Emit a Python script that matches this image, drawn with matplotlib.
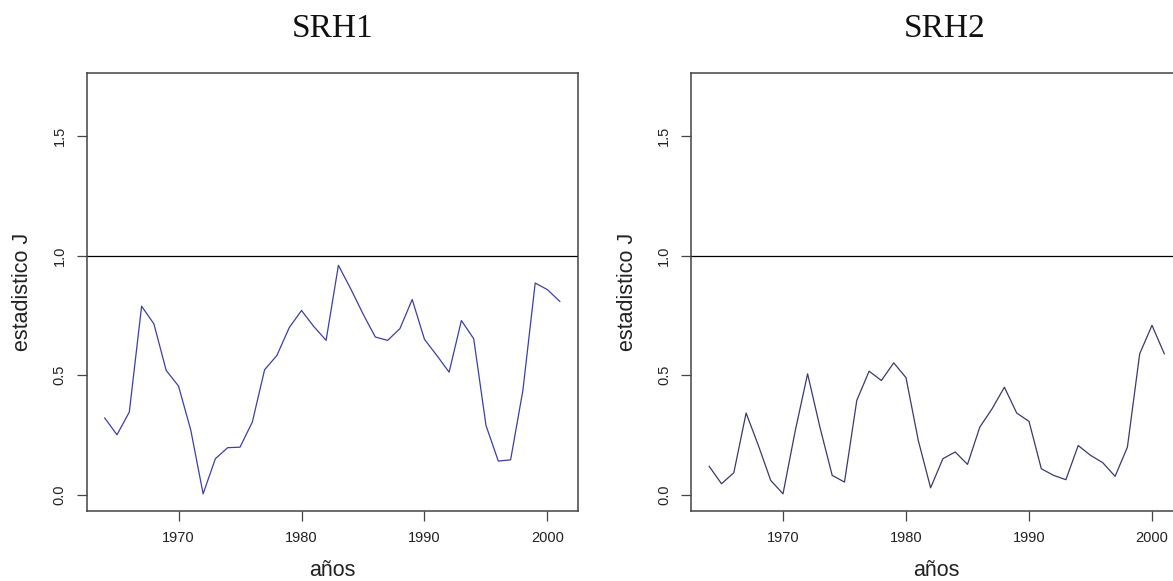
import matplotlib
matplotlib.use("Agg")
import matplotlib.pyplot as plt

years = list(range(1964, 2002))
srh1 = [0.321, 0.251, 0.346, 0.789, 0.715, 0.520, 0.455, 0.270, 0.004, 0.151,
        0.197, 0.199, 0.304, 0.523, 0.583, 0.699, 0.771, 0.704, 0.646, 0.960,
        0.862, 0.757, 0.660, 0.646, 0.695, 0.817, 0.650, 0.583, 0.513, 0.729,
        0.653, 0.290, 0.141, 0.146, 0.437, 0.886, 0.858, 0.809]
srh2 = [0.119, 0.046, 0.092, 0.342, 0.206, 0.060, 0.004, 0.269, 0.506, 0.283,
        0.081, 0.053, 0.395, 0.517, 0.478, 0.552, 0.490, 0.227, 0.029, 0.151,
        0.179, 0.127, 0.283, 0.360, 0.450, 0.342, 0.307, 0.109, 0.081, 0.063,
        0.206, 0.165, 0.134, 0.077, 0.199, 0.590, 0.709, 0.590]
titles = ["SRH1", "SRH2"]
xticks = [1970, 1980, 1990, 2000]
yticks = [0.0, 0.5, 1.0, 1.5]
yticklabels = ["0.0", "0.5", "1.0", "1.5"]
xlabel = "años"
ylabel = "estadistico J"
ref_level = 1.0

W, H = 1173, 581
fig = plt.figure(figsize=(W / 100, H / 100), dpi=100)

sans = "Liberation Sans"
serif = "Liberation Serif"

lefts = [86.5, 691.0]
title_cx = [333.0, 945.0]
axw = 491.5
bottom_px, top_px = 511.0, 72.7
axh = bottom_px - top_px
colors = ["#3e3ea8", "#3a3a6e"]

for i, (series, title) in enumerate(zip([srh1, srh2], titles)):
    ax = fig.add_axes([lefts[i] / W, (H - bottom_px) / H, axw / W, axh / H])
    ax.plot(years, series, color=colors[i], lw=0.9)
    ax.axhline(ref_level, color="black", lw=0.9)
    ax.set_xlim(1962.52, 2002.48)
    ax.set_ylim(-0.068, 1.766)
    for s in ax.spines.values():
        s.set_color("#444444")
        s.set_linewidth(1.1)
    ax.set_xticks(xticks)
    ax.set_xticklabels([str(t) for t in xticks], fontfamily=sans, fontsize=10.5, color="#222222")
    ax.set_yticks(yticks)
    ax.set_yticklabels(yticklabels, fontfamily=sans, fontsize=10.5, color="#222222",
                       rotation=90, va="center")
    ax.tick_params(axis="both", direction="out", length=7.2, width=0.9, color="#444444", pad=7)
    fig.text(title_cx[i] / W, (H - 37.3) / H, title, fontfamily=serif,
             fontsize=24, ha="center", va="baseline", color="#111111")
    ax.text(-(86.5 - 23.0) / axw, 0.5, ylabel, transform=ax.transAxes,
            rotation=90, ha="center", va="center", fontfamily=sans, fontsize=15.5, color="#222222")
    ax.text(0.5, -(575.5 - bottom_px) / axh, xlabel, transform=ax.transAxes,
            ha="center", va="baseline", fontfamily=sans, fontsize=15.5, color="#222222")

fig.savefig("out.png", dpi=100)
